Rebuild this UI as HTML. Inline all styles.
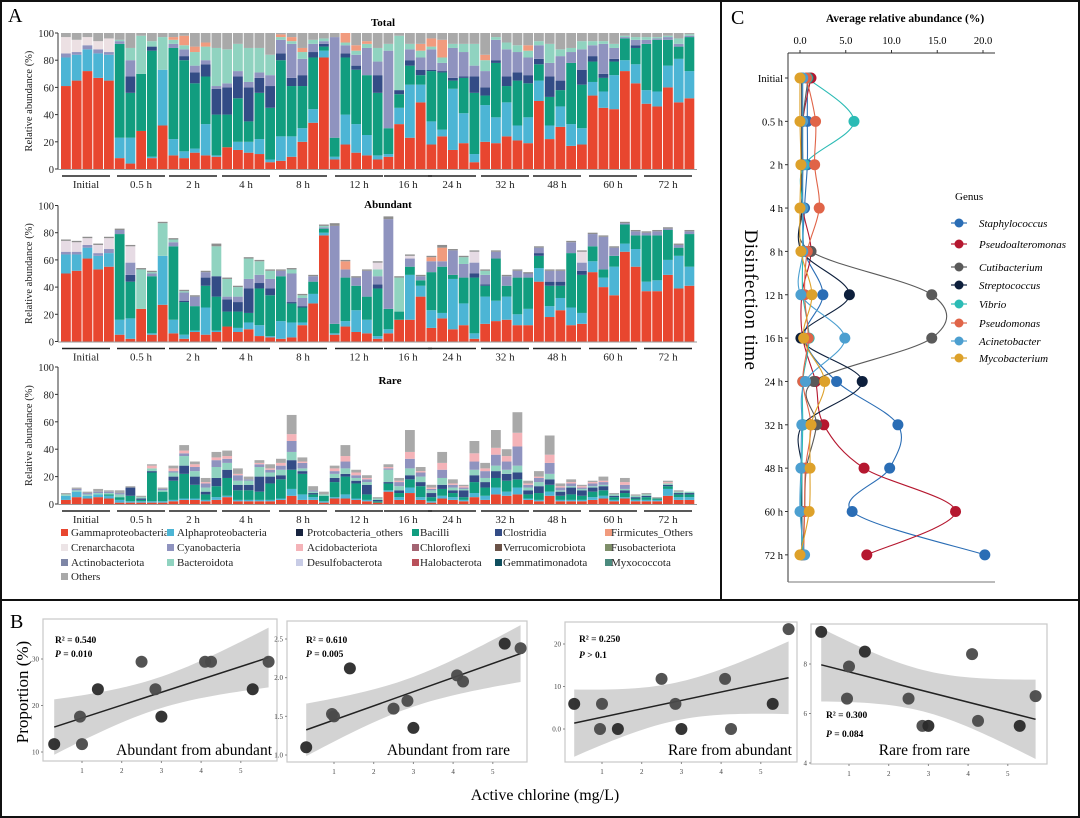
<!DOCTYPE html>
<html><head><meta charset="utf-8">
<style>
html,body{margin:0;padding:0;background:#fff;}
svg{display:block;font-family:"Liberation Serif",serif;}
</style></head>
<body>
<svg id="fig" width="1080" height="818" viewBox="0 0 1080 818" xmlns="http://www.w3.org/2000/svg">
<rect x="1" y="1" width="1078" height="816" fill="#fff" stroke="#111" stroke-width="2"/>
<line x1="721" y1="1" x2="721" y2="600" stroke="#111" stroke-width="2"/>
<line x1="1" y1="600" x2="1079" y2="600" stroke="#111" stroke-width="2"/>
<text x="8" y="22" font-size="20">A</text>
<text x="731" y="24" font-size="20">C</text>
<text x="10" y="628" font-size="20">B</text>
<g id="gA"></g>
<g id="gC"></g>
<g id="gB"></g>
</svg>
<script>
// ---------- Panel A data ----------
const groups = ["Initial","0.5 h","2 h","4 h","8 h","12 h","16 h","24 h","32 h","48 h","60 h","72 h"];
const groupCenters = [86,141,193,246,303,359,408,452,505,557,613,668];
const tR=[61,65,72,67,65,8,4,28,8,32,10,8,12,10,9,16,14,12,11,5,6,9,20,34,82,7,18,12,10,7,9,33,23,49,18,24,14,19,5,20,19,24,21,19,50,22,31,17,18,54,45,44,72,63,48,46,60,49,52];
const tA=[21,19,16,18,19,15,19,0,1,41,12,5,3,23,1,0,6,8,11,2,18,15,10,10,5,2,22,21,15,3,2,12,39,13,17,5,45,22,6,27,19,25,11,19,15,10,15,16,12,10,12,25,8,14,10,11,16,32,20];
const tB=[0,0,0,0,0,69,33,42,78,0,67,67,48,35,30,24,32,15,34,38,56,37,31,38,3,14,42,40,44,46,19,10,14,7,37,42,6,26,45,7,40,12,33,25,12,21,12,45,32,15,10,10,16,12,34,38,19,9,25];
const tC=[0,0,0,0,0,0,12,0,3,0,0,3,8,9,19,20,16,25,11,16,5,6,8,4,2,0,3,3,0,13,0,3,4,4,1,1,2,1,12,6,2,7,6,6,4,15,7,0,11,4,3,2,0,2,0,0,0,0,0];
const tCy=[3,2,3,3,2,2,12,0,0,0,3,5,5,3,2,3,4,4,4,8,10,25,12,6,2,74,6,8,20,10,57,0,8,9,15,6,22,18,8,12,15,20,15,13,10,10,18,8,15,8,22,8,1,4,3,1,2,2,1];
const tBa=[0,0,0,0,0,1,9,28,4,24,3,3,10,10,28,25,20,25,18,15,2,2,5,3,2,0,2,3,3,10,5,40,4,5,2,4,3,6,16,8,2,5,5,5,3,14,5,3,6,3,2,3,1,2,2,1,1,4,1];
const tF=[0,0,0,0,0,0,0,0,0,0,2,7,4,3,0,0,0,0,0,0,2,3,3,0,0,0,8,4,2,0,0,0,0,5,6,13,0,0,0,4,0,0,0,4,0,0,0,0,0,0,0,0,0,0,0,0,0,0,0];
const tCr=[12,9,6,6,10,0,0,0,0,0,0,0,0,0,0,0,0,0,0,0,0,0,0,0,0,0,0,0,0,0,0,0,0,0,0,0,0,0,0,0,0,0,0,0,0,0,0,0,0,0,0,0,0,0,0,0,0,0,0];

const aR=[50,52,61,53,55,5,2,24,5,27,6,2,7,5,7,11,7,9,4,3,2,3,12,28,78,5,11,7,6,2,6,16,16,33,10,17,9,12,2,13,15,16,12,12,44,18,23,12,13,51,40,34,66,55,37,37,49,39,41];
const aA=[14,12,8,10,10,11,15,0,1,36,10,3,1,20,1,0,3,5,8,1,13,11,2,7,2,1,4,16,10,2,3,0,33,8,13,4,37,16,4,20,15,17,8,12,10,8,9,13,8,8,7,21,6,13,7,8,11,24,14];
const aB=[0,0,0,0,0,63,27,0,42,0,54,24,18,16,25,11,12,7,27,30,33,14,11,9,3,7,32,18,17,35,15,6,6,4,28,34,3,19,41,8,31,8,27,23,9,15,9,40,28,11,6,8,14,10,34,33,22,6,24];
const aC=[0,0,0,0,0,0,5,0,0,0,0,1,0,6,15,9,7,18,4,5,0,1,1,0,0,0,0,0,0,3,0,0,0,0,0,0,0,0,3,1,0,0,0,0,2,3,3,0,3,0,0,0,0,0,0,0,0,0,0];
const aCy=[2,2,2,2,3,3,9,0,2,0,3,6,7,4,0,2,4,7,6,7,4,21,6,4,1,72,6,6,19,6,66,0,6,3,8,4,18,10,8,7,5,7,5,3,4,8,8,8,6,9,24,6,1,3,2,3,1,2,2];
const aBa=[0,0,0,0,0,0,0,29,1,24,2,1,0,0,22,13,7,15,10,6,0,3,2,0,1,0,0,0,0,5,0,25,0,0,0,0,0,5,0,3,0,0,0,0,0,0,0,0,0,0,0,0,0,0,0,0,0,0,0];
const aF=[0,0,0,0,0,0,0,0,0,0,0,0,0,0,0,0,0,0,0,0,0,0,0,0,0,0,6,0,0,0,0,0,0,0,3,10,0,0,0,0,0,0,0,0,0,0,0,0,0,0,0,0,0,0,0,0,0,0,0];
const aLav=[8,7,5,6,8,0,12,0,0,0,0,0,0,0,0,0,0,0,0,0,0,0,0,0,0,0,0,0,0,5,0,0,2,0,0,0,0,0,8,0,0,0,0,0,0,0,0,0,8,0,0,0,0,0,0,0,0,0,0];
const aO=[1,1,1,1,1,1,1,1,1,1,1,1,1,1,2,1,1,1,1,1,1,1,1,1,1,2,1,1,1,1,2,1,1,1,1,2,1,1,1,1,1,1,1,1,1,1,1,1,1,1,1,1,1,1,1,1,1,1,1];

const rT=[8,12,9,11,10,10,13,6,29,12,28,43,31,19,38,39,26,20,32,29,33,65,34,13,9,28,43,25,21,5,29,19,54,27,14,38,18,14,46,30,54,40,67,17,24,50,15,18,14,17,20,8,19,7,8,5,17,10,9];
const rR=[3,5,4,5,4,1,1,1,1,1,2,3,3,2,3,5,2,2,2,2,3,6,3,3,1,4,4,3,2,1,9,3,8,3,1,4,3,2,5,3,7,6,7,3,2,6,2,2,2,3,4,2,4,2,2,2,6,3,3];
const rA=[3,4,2,2,2,2,1,1,1,1,1,1,1,1,2,1,1,1,1,1,1,5,4,2,1,1,3,1,1,0,1,2,4,2,1,2,2,1,3,3,5,3,5,1,1,3,1,1,1,2,2,1,1,1,1,1,5,2,2];
const rB=[0,0,0,0,1,2,4,1,21,7,14,18,10,4,8,13,7,7,6,12,14,14,15,2,4,11,13,11,4,1,5,3,6,8,3,5,3,2,8,6,7,8,6,3,5,5,3,4,3,4,4,2,3,1,2,1,2,2,2];
const rC=[0,0,0,0,0,0,6,1,1,0,3,6,6,2,6,6,4,4,11,5,3,7,2,1,0,3,2,2,7,1,1,2,3,3,3,3,2,5,5,4,5,5,5,3,5,4,3,5,4,3,3,1,2,1,1,0,1,1,1];
const rCy=[0,1,1,1,1,1,0,0,0,1,1,2,3,3,5,3,4,1,2,2,3,8,4,1,0,2,5,2,2,0,1,3,7,3,1,6,2,1,6,5,8,6,14,2,3,8,2,2,1,2,2,0,3,0,0,0,0,0,0];
const rBa=[1,1,1,1,1,2,0,1,2,1,3,7,4,3,8,5,3,3,7,3,4,6,2,1,1,3,4,2,2,1,9,3,5,4,2,5,2,1,4,3,4,3,5,2,3,4,1,1,1,1,1,1,1,1,1,0,1,1,1];
const rAc=[0,0,0,0,0,0,0,0,2,0,2,2,2,1,2,2,1,0,1,1,2,5,1,0,0,2,4,2,1,0,1,1,5,1,1,5,1,1,6,2,5,4,10,1,1,6,1,1,1,1,1,0,2,0,0,0,1,0,0];

const legendNames=[["Gammaproteobacteria","Alphaproteobacteria","Protcobacteria_others","Bacilli","Clostridia","Firmicutes_Others"],["Crenarchacota","Cyanobacteria","Acidobacteriota","Chloroflexi","Verrucomicrobiota","Fusobacteriota"],["Actinobacteriota","Bacteroidota","Desulfobacterota","Halobacterota","Gemmatimonadota","Myxococcota"],["Others"]];
const legendColors=[["#e8462f","#4cb5d5","#17233f","#119d7f","#334c86","#f19b7e"],["#ece4e6","#8f93bf","#f4b3b8","#a36472","#6b5348","#7f8f6a"],["#7e86a6","#90d3c0","#c8cce6","#b9505a","#0e4e5e","#4b8a7e"],["#a9a9a9"]];

// ---------- Panel C data ----------
const timeLabels=["Initial","0.5 h","2 h","4 h","8 h","12 h","16 h","24 h","32 h","48 h","60 h","72 h"];
const genusNames=["Staphylococcus","Pseudoalteromonas","Cutibacterium","Streptococcus","Vibrio","Pseudomonas","Acinetobacter","Mycobacterium"];
const genusColors=["#2a6db5","#b5172f","#5a5a5a","#0d1f3c","#2bbbb5","#e06448","#4c9fd0","#dda12a"];
const vStaph=[0.8,0.8,0.8,0.5,0.5,2.5,0.5,4.0,10.7,9.8,5.7,20.2];
const vPalt=[1.2,0.3,0.3,0.3,1.2,0.2,0.3,1.7,2.6,7.0,17.0,7.3];
const vCuti=[0.9,0.3,0.3,0.3,1.2,14.4,14.4,1.5,1.8,0.7,0.5,0.3];
const vStrep=[0.2,0.2,0.2,0.2,0.2,5.4,0.1,6.8,0.3,0.2,0.2,0.2];
const vVibrio=[0.8,5.9,0.5,0.3,0.3,0.3,1.0,0.3,0.3,0.2,0.1,0.3];
const vPseud=[0.7,1.7,1.6,2.1,0.8,0.5,0.9,0.3,1.2,0.6,0.5,0.4];
const vAcin=[0.3,0.3,0.3,0.3,0.3,0.1,4.9,0.6,0.2,0.1,0.0,0.5];
const vMyco=[0.0,0.0,0.1,0.0,0.1,1.3,0.4,2.7,1.2,1.1,1.0,0.0];
const cTicks=[0,5,10,15,20];

// ---------- Panel B data ----------
const chlorine=[0.3,0.95,1.0,1.4,2.5,2.85,3.0,4.1,4.25,5.3,5.7];
const propAA=[11.7,17.6,11.7,23.5,29.4,23.5,17.6,29.4,29.4,23.5,29.4];
const propAR=[1.1,1.53,1.5,2.12,1.6,1.7,1.35,2.03,1.95,2.44,2.38];
const propRA=[5.9,0,5.9,0,11.8,5.9,0,11.8,0,5.9,23.5];
const propRR=[9.3,6.6,7.9,8.5,6.6,5.5,5.5,8.4,5.7,5.5,6.7];
const panelTitles=["Abundant from abundant","Abundant from rare","Rare from abundant","Rare from rare"];
const r2Labels=["R² = 0.540","R² = 0.610","R² = 0.250","R² = 0.300"];
const pLabels=["= 0.010","= 0.005","> 0.1","= 0.084"];
const yTicksB=[[10,20,30],[1.0,1.5,2.0,2.5],[0,10,20],[4,6,8]];
const yTickText=[["10","20","30"],["1.0","1.5","2.0","2.5"],["0.0","10","20"],["4","6","8"]];

// ---------- helpers ----------
const NS="http://www.w3.org/2000/svg";
function mk(parent,tag,attrs,text){const e=document.createElementNS(NS,tag);for(const k in attrs)e.setAttribute(k,attrs[k]);if(text!==undefined)e.textContent=text;parent.appendChild(e);return e;}

// ---------- Panel A ----------
const gA=document.getElementById('gA');
const barX=i=>61+i*10.75;
const BW=9.8;
function drawStackPanel(y0,y100,title,titleX,titleY,series,fillTo100,nameKey){
  const ys=v=>y0-(y0-y100)*v/100;
  const g=mk(gA,'g',{});
  
  
  const t=mk(g,'text',{x:titleX,y:titleY,'font-size':11,'font-weight':'bold','text-anchor':'middle'},title);
  
  
  const n=series[0].vals.length;
  for(let i=0;i<n;i++){
    let acc=0;
    const stackVals=series.map(s=>s.vals[i]);
    for(let k=0;k<series.length;k++){
      let v=stackVals[k];
      if(acc+v>100)v=Math.max(0,100-acc);
      if(v<=0)continue;
      const r=mk(g,'rect',{x:barX(i),y:ys(acc+v),width:BW,height:ys(acc)-ys(acc+v),fill:series[k].color});
      
      
      acc+=v;
    }
    if(fillTo100&&acc<100){
      const r=mk(g,'rect',{x:barX(i),y:ys(100),width:BW,height:ys(acc)-ys(100),fill:'#a9a9a9'});
      
      
    }
  }
  // axis
  const ax=mk(g,'line',{x1:58,y1:y100,x2:58,y2:y0,stroke:'#333','stroke-width':1});
  
  
  mk(g,'line',{x1:58,y1:y0+0.5,x2:697,y2:y0+0.5,stroke:'#999','stroke-width':1});
  [0,20,40,60,80,100].forEach(v=>{
    mk(g,'line',{x1:55,y1:ys(v),x2:58,y2:ys(v),stroke:'#333'});
    const tl=mk(g,'text',{x:54,y:ys(v)+4,'font-size':10.5,'text-anchor':'end',fill:'#222'},String(v));
    
    
  });
  const yt=mk(g,'text',{x:0,y:0,'font-size':10.5,'text-anchor':'middle',transform:`translate(32,${(y0+y100)/2}) rotate(-90)`,fill:'#222'},'Relative abundance (%)');
  
  
  groups.forEach((gname,j)=>{
    const c=groupCenters[j];
    const ln=mk(g,'line',{x1:c-24,y1:y0+7,x2:c+24,y2:y0+7,stroke:'#222','stroke-width':1.6});
    
    
    const gl=mk(g,'text',{x:c,y:y0+19,'font-size':11,'text-anchor':'middle',fill:'#222'},gname);
    
    
  });
}
drawStackPanel(169,33,'Total',383,26,[
 {key:'gamma',vals:tR,color:'#e8462f'},{key:'alpha',vals:tA,color:'#4cb5d5'},{key:'bacilli',vals:tB,color:'#119d7f'},
 {key:'clostridia',vals:tC,color:'#334c86'},{key:'cyano',vals:tCy,color:'#8f93bf'},{key:'bacteroidota',vals:tBa,color:'#90d3c0'},
 {key:'firmicutes',vals:tF,color:'#f19b7e'},{key:'crenarchaeota',vals:tCr,color:'#ece0e3'}],true,'total');
drawStackPanel(341.5,205.5,'Abundant',388,208,[
 {key:'gamma',vals:aR,color:'#e8462f'},{key:'alpha',vals:aA,color:'#4cb5d5'},{key:'bacilli',vals:aB,color:'#119d7f'},
 {key:'clostridia',vals:aC,color:'#334c86'},{key:'cyano',vals:aCy,color:'#8f93bf'},{key:'bacteroidota',vals:aBa,color:'#90d3c0'},
 {key:'firmicutes',vals:aF,color:'#f19b7e'},{key:'desulfo',vals:aLav,color:'#e6dbe4'},{key:'others',vals:aO,color:'#8e8e8e'}],false,'abundant');
const rO=rT.map((t,i)=>Math.max(0,t-rR[i]-rA[i]-rB[i]-rC[i]-rCy[i]-rBa[i]-rAc[i]));
drawStackPanel(504,367,'Rare',390,384,[
 {key:'gamma',vals:rR,color:'#e8462f'},{key:'alpha',vals:rA,color:'#4cb5d5'},{key:'bacilli',vals:rB,color:'#119d7f'},
 {key:'clostridia',vals:rC,color:'#334c86'},{key:'bacteroidota',vals:rBa,color:'#90d3c0'},{key:'cyano',vals:rCy,color:'#8f93bf'},
 {key:'acidobacteriota',vals:rAc,color:'#f4b3b8'},{key:'others',vals:rO,color:'#a9a9a9'}],false,'rare');

// legend
const legX=[[61,71],[167,177],[296,307],[412,420],[495,503],[605,611]];
const legY=[536,551,566,580];
legendNames.forEach((row,ri)=>row.forEach((nm,ci)=>{
  const g=mk(gA,'g',{});
  
  
  mk(g,'rect',{x:legX[ci][0],y:legY[ri]-7,width:7,height:7,fill:legendColors[ri][ci]});
  mk(g,'text',{x:legX[ci][1],y:legY[ri],'font-size':11,fill:'#222'},nm);
}));

// ---------- Panel C ----------
const gC=document.getElementById('gC');
const cx=v=>800+v*9.15;
const cy=i=>78+i*43.35;
mk(gC,'text',{x:905,y:22,'font-size':11.5,'font-weight':'bold','text-anchor':'middle'},'Average relative abundance (%)');
mk(gC,'line',{x1:788,y1:53,x2:995,y2:53,stroke:'#333'});
mk(gC,'line',{x1:788,y1:53,x2:788,y2:582,stroke:'#333'});
mk(gC,'line',{x1:788,y1:582,x2:995,y2:582,stroke:'#777'});
cTicks.forEach(v=>{
  mk(gC,'line',{x1:cx(v),y1:50,x2:cx(v),y2:53,stroke:'#333'});
  const t=mk(gC,'text',{x:cx(v),y:44,'font-size':10.5,'text-anchor':'middle'},v.toFixed(1));
  
  
});
timeLabels.forEach((l,i)=>{
  mk(gC,'line',{x1:785,y1:cy(i),x2:788,y2:cy(i),stroke:'#333'});
  const t=mk(gC,'text',{x:783,y:cy(i)+4,'font-size':10.5,'text-anchor':'end'},l);
  
  
});
const ct=mk(gC,'text',{x:0,y:0,'font-size':19,'text-anchor':'middle',transform:'translate(745,300) rotate(90)','letter-spacing':'0.5'},'Disinfection  time');


const cSeries=[vStaph,vPalt,vCuti,vStrep,vVibrio,vPseud,vAcin,vMyco];
function crPath(pts){
  let d=`M${pts[0][0]},${pts[0][1]}`;
  for(let i=0;i<pts.length-1;i++){
    const p0=pts[Math.max(0,i-1)],p1=pts[i],p2=pts[i+1],p3=pts[Math.min(pts.length-1,i+2)];
    const c1=[p1[0]+(p2[0]-p0[0])/6,p1[1]+(p2[1]-p0[1])/6];
    const c2=[p2[0]-(p3[0]-p1[0])/6,p2[1]-(p3[1]-p1[1])/6];
    d+=` C${c1[0]},${c1[1]} ${c2[0]},${c2[1]} ${p2[0]},${p2[1]}`;
  }
  return d;
}
cSeries.forEach((vals,k)=>{
  const pts=vals.map((v,i)=>[cx(v),cy(i)]);
  const p=mk(gC,'path',{d:crPath(pts),fill:'none',stroke:genusColors[k],'stroke-width':1.1});
  
  
});
cSeries.forEach((vals,k)=>{
  vals.forEach((v,i)=>{
    const c=mk(gC,'circle',{cx:cx(v),cy:cy(i),r:5.5,fill:genusColors[k]});
    
    
  });
});
mk(gC,'text',{x:955,y:200,'font-size':11},'Genus');
const cLegY=[223,244,267,285,304,323,341,358];
genusNames.forEach((nm,k)=>{
  const g=mk(gC,'g',{});
  
  
  mk(g,'line',{x1:951,y1:cLegY[k],x2:967,y2:cLegY[k],stroke:genusColors[k],'stroke-width':1.2});
  mk(g,'circle',{cx:959,cy:cLegY[k],r:4.5,fill:genusColors[k]});
  mk(g,'text',{x:979,y:cLegY[k]+4,'font-size':11,'font-style':'italic'},nm);
});

// ---------- Panel B ----------
const gB=document.getElementById('gB');
const boxes=[[43,619,277,761],[287,621,527,762],[565,622,797,762],[811,624,1047,764]];
const xOne=[82,334,602,849];
const yMaps=[[10,752,30,659],[1.0,755,2.5,639],[0,729,20,644],[4,763,8,664]];
const statPos=[[55,643,657],[306,643,657],[579,642,658],[826,718,737]];
const titleEnd=[272,510,792,970];
const yData=[propAA,propAR,propRA,propRR];
yData.forEach((ys,k)=>{
  const g=mk(gB,'g',{});
  
  
  const [bx0,by0,bx1,by1]=boxes[k];
  const xm=v=>xOne[k]+(v-1)*39.7;
  const [v0,p0,v1,p1]=yMaps[k];
  const ym=v=>p0+(v-v0)*(p1-p0)/(v1-v0);
  const n=chlorine.length;
  const mx=chlorine.reduce((a,b)=>a+b)/n, my=ys.reduce((a,b)=>a+b)/n;
  let sxx=0,sxy=0;for(let i=0;i<n;i++){sxx+=(chlorine[i]-mx)**2;sxy+=(chlorine[i]-mx)*(ys[i]-my);}
  const b=sxy/sxx,a=my-b*mx;
  let sse=0;for(let i=0;i<n;i++)sse+=(ys[i]-a-b*chlorine[i])**2;
  const s=Math.sqrt(sse/(n-2)),t=2.262;
  const up=[],lo=[];
  for(let j=0;j<=40;j++){const x=0.3+5.4*j/40;const f=a+b*x;const se=s*Math.sqrt(1/n+(x-mx)**2/sxx);up.push([xm(x),ym(f+t*se)]);lo.push([xm(x),ym(f-t*se)]);}
  mk(g,'rect',{x:bx0,y:by0,width:bx1-bx0,height:by1-by0,fill:'#fff',stroke:'#c8c8c8','stroke-width':1.2});
  const band=mk(g,'polygon',{points:up.concat(lo.reverse()).map(p=>p.join(',')).join(' '),fill:'#d3d3d3'});
  
  
  const fl=mk(g,'line',{x1:xm(0.3),y1:ym(a+b*0.3),x2:xm(5.7),y2:ym(a+b*5.7),stroke:'#222','stroke-width':1.5});
  
  
  yTicksB[k].forEach((v,j)=>{
    mk(g,'line',{x1:bx0-2,y1:ym(v),x2:bx0,y2:ym(v),stroke:'#888'});
    mk(g,'text',{x:bx0-4,y:ym(v)+2.5,'font-size':7,'text-anchor':'end',fill:'#444'},yTickText[k][j]);
  });
  [1,2,3,4,5].forEach(v=>{
    mk(g,'line',{x1:xm(v),y1:by1,x2:xm(v),y2:by1+2,stroke:'#888'});
    mk(g,'text',{x:xm(v),y:by1+12,'font-size':7,'text-anchor':'middle',fill:'#444'},String(v));
  });
  ys.forEach((v,i)=>{
    const c=mk(g,'circle',{cx:xm(chlorine[i]),cy:ym(v),r:6,fill:(i%3===0)?'#2a2a2a':'#4a4a4a','fill-opacity':0.95});
    
    
  });
  mk(g,'text',{x:statPos[k][0],y:statPos[k][1],'font-size':9.5,'font-weight':'bold'},r2Labels[k]);
  const pt=mk(g,'text',{x:statPos[k][0],y:statPos[k][2],'font-size':9.5,'font-weight':'bold'});
  mk(pt,'tspan',{'font-style':'italic'},'P');
  mk(pt,'tspan',{},' '+pLabels[k]);
  const tt=mk(g,'text',{x:titleEnd[k],y:755,'font-size':15.5,'text-anchor':'end'},panelTitles[k]);
  
  
});
const py=mk(gB,'text',{x:0,y:0,'font-size':17,'text-anchor':'middle',transform:'translate(28,692) rotate(-90)'},'Proportion (%)');


const px=mk(gB,'text',{x:545,y:800,'font-size':16,'text-anchor':'middle'},'Active chlorine (mg/L)');


</script>
</body></html>
